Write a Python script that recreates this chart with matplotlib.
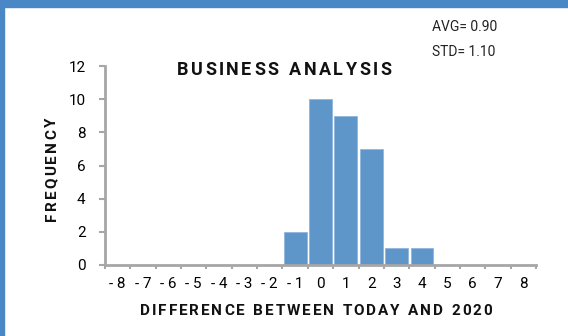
import numpy as np
import matplotlib.pyplot as plt
from matplotlib.patches import Rectangle

diffs = [-8, -7, -6, -5, -4, -3, -2, -1, 0, 1, 2, 3, 4, 5, 6, 7, 8]
freq = [0, 0, 0, 0, 0, 0, 0, 2, 10, 9, 7, 1, 1, 0, 0, 0, 0]
yticks = [0, 2, 4, 6, 8, 10, 12]

bar_color = '#5f96ca'
axis_gray = '#a6a6a6'
border_blue = '#4a87c6'

W, H = 568, 336
plt.rcParams['font.family'] = ['Roboto', 'DejaVu Sans']

fig = plt.figure(figsize=(W / 100, H / 100), dpi=100)
renderer = fig.canvas.get_renderer()


def spaced_text(cx, cy, s, track, vertical=False, **kw):
    # draw a string letter by letter with extra tracking, centred on (cx, cy) in pixels
    widths = []
    for ch in s:
        if ch == ' ':
            t = fig.text(0, 0, 'x', **kw)
            widths.append(t.get_window_extent(renderer).width * 0.6)
        else:
            t = fig.text(0, 0, ch, **kw)
            widths.append(t.get_window_extent(renderer).width)
        t.remove()
    total = sum(widths) + track * (len(s) - 1)
    pos = -total / 2
    for ch, w in zip(s, widths):
        c = pos + w / 2
        if vertical:
            fig.text(cx / W, (cy + c) / H, ch, rotation=90, ha='center', va='center', **kw)
        else:
            fig.text((cx + c) / W, cy / H, ch, ha='center', va='center', **kw)
        pos += w + track


fig.patches.append(Rectangle((0, 0), 4 / W, 1, transform=fig.transFigure,
                             color=border_blue, zorder=0))
fig.patches.append(Rectangle((0, 1 - 7 / H), 1, 7 / H, transform=fig.transFigure,
                             color=border_blue, zorder=0))

ax = fig.add_axes([105 / W, 1 - 265 / H, 431 / W, 199 / H])
ax.bar(diffs, freq, width=0.9, color=bar_color, edgecolor='#8fb5dd', linewidth=0.6)

ax.set_xlim(-8.5, 8.5)
ax.set_ylim(0, 12)
ax.set_yticks(yticks)
ax.set_xticks(diffs)
ax.set_xticklabels(['- ' + str(-d) if d < 0 else str(d) for d in diffs])
ax.set_xticks(np.arange(-8.5, 9, 1), minor=True)
ax.tick_params(axis='x', which='major', length=0, pad=9, labelsize=11)
ax.tick_params(axis='x', which='minor', length=3, width=1.5, color=axis_gray)
ax.tick_params(axis='y', length=4, width=1.5, color=axis_gray, pad=10, labelsize=11)

for side in ['top', 'right']:
    ax.spines[side].set_visible(False)
for side in ['left', 'bottom']:
    ax.spines[side].set_color(axis_gray)
    ax.spines[side].set_linewidth(2)

bold = dict(fontsize=11, fontweight='bold', color='#111111')
spaced_text(284, H - 70, 'BUSINESS ANALYSIS', 2.5, fontsize=13, fontweight='bold',
            color='#111111')
spaced_text(316, H - 311, 'DIFFERENCE BETWEEN TODAY AND 2020', 1.9, **bold)
spaced_text(52, H - 169, 'FREQUENCY', 2.2, vertical=True, **bold)

fig.text(432 / W, 1 - 27 / H, 'AVG= 0.90', fontsize=10, color='#222222', va='center')
fig.text(432 / W, 1 - 52 / H, 'STD= 1.10', fontsize=10, color='#222222', va='center')

fig.savefig('out.png', dpi=100)
